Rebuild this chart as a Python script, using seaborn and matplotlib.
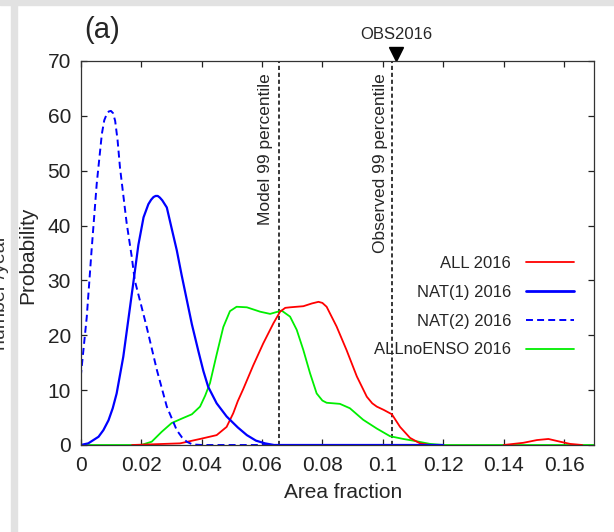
import matplotlib
matplotlib.use("Agg")
import matplotlib.pyplot as plt
from matplotlib.patches import Rectangle
from matplotlib.lines import Line2D
import numpy as np
import pandas as pd
import seaborn as sns

# ---------------- data ----------------
x_all = [0.017, 0.0329, 0.0395, 0.045, 0.0483, 0.0505, 0.052, 0.0538, 0.0571,
         0.0604, 0.0638, 0.066, 0.0677, 0.0693, 0.0715, 0.0737, 0.0765, 0.0787,
         0.0800, 0.0814, 0.0847, 0.088, 0.0914, 0.0947, 0.0965, 0.098, 0.1003,
         0.103, 0.1057, 0.109, 0.1123, 0.1156]
y_all = [0, 0.3, 1.1, 1.8, 3.3, 5.8, 8.0, 10.2, 14.5, 18.5, 22.2, 24.3, 25.0,
         25.1, 25.2, 25.3, 25.8, 26.1, 25.9, 25.2, 21.6, 17.3, 12.5, 8.8, 7.6,
         7.0, 6.4, 5.6, 3.3, 1.3, 0.3, 0]
x_all_tail = [0.14, 0.1465, 0.151, 0.1548, 0.1587, 0.162, 0.166]
y_all_tail = [0, 0.4, 0.9, 1.1, 0.6, 0.2, 0]

x_nat1 = [0, 0.0025, 0.0059, 0.0075, 0.0092, 0.0106, 0.0119, 0.0141, 0.0158,
          0.0174, 0.0191, 0.0208, 0.0224, 0.0233, 0.0241, 0.0248, 0.0255, 0.0262,
          0.027, 0.0285, 0.0301, 0.0318, 0.0334, 0.0351, 0.0368, 0.039, 0.0406,
          0.0422, 0.045, 0.0483, 0.052, 0.055, 0.058, 0.061, 0.064, 0.12]
y_nat1 = [0, 0.3, 1.5, 2.7, 4.5, 6.7, 9.4, 16.1, 23.0, 29.5, 36.5, 41.5, 43.9,
          44.7, 45.2, 45.4, 45.4, 45.1, 44.6, 43.3, 39.5, 35.5, 31.0, 26.5, 22.0,
          17.0, 13.5, 10.6, 7.6, 5.2, 3.2, 1.8, 0.8, 0.3, 0, 0]

x_nat2 = [0, 0.002, 0.0036, 0.0053, 0.007, 0.0078, 0.0086, 0.0093, 0.010, 0.0107,
          0.0114, 0.0122, 0.013, 0.0152, 0.0169, 0.0179, 0.020, 0.0218, 0.0252,
          0.0285, 0.0318, 0.0335, 0.0351, 0.037, 0.04, 0.06, 0.12]
y_nat2 = [12.4, 23.3, 35.5, 47.6, 56.7, 59.2, 60.3, 60.8, 60.9, 60.5, 59.1, 55.6,
          50.6, 40.5, 34.3, 30.0, 25.5, 21.6, 13.7, 7.0, 2.7, 1.4, 0.6, 0.1, 0,
          0, 0]

x_noenso = [0, 0.02, 0.0235, 0.0268, 0.0301, 0.0334, 0.0368, 0.0395, 0.0412,
            0.0428, 0.045, 0.0472, 0.0494, 0.0516, 0.055, 0.0594, 0.0627, 0.0665,
            0.0693, 0.0715, 0.0737, 0.0759, 0.0781, 0.0800, 0.0814, 0.0858,
            0.0891, 0.0935, 0.098, 0.1024, 0.1068, 0.110, 0.1156, 0.12, 0.17]
y_noenso = [0, 0, 0.6, 2.4, 4.0, 4.8, 5.6, 7.0, 9.0, 11.3, 16.5, 21.5, 24.4, 25.2,
            25.1, 24.3, 23.9, 24.5, 23.4, 21.0, 17.3, 13.1, 9.4, 8.1, 7.7, 7.5,
            6.7, 4.6, 3.0, 1.6, 1.1, 0.8, 0.2, 0, 0]

model_p99 = 0.0655
obs_p99 = 0.103
obs_2016 = 0.1045

series_labels = ["ALL 2016", "NAT(1) 2016", "NAT(2) 2016", "ALLnoENSO 2016"]
x_ticks = [0, 0.02, 0.04, 0.06, 0.08, 0.10, 0.12, 0.14, 0.16]
x_tick_labels = ["0", "0.02", "0.04", "0.06", "0.08", "0.1", "0.12", "0.14", "0.16"]
y_ticks = [0, 10, 20, 30, 40, 50, 60, 70]

# ---------------- style ----------------
sns.set_style("ticks")
plt.rcParams["font.family"] = ["Liberation Sans", "DejaVu Sans"]
plt.rcParams["lines.scale_dashes"] = False
plt.rcParams["lines.solid_joinstyle"] = "round"
plt.rcParams["lines.dash_joinstyle"] = "round"

W, H = 614, 532
fig = plt.figure(figsize=(W / 100, H / 100), dpi=100)
fig.patch.set_facecolor("white")

# light gray frame strips of the screenshot
fig.patches.append(Rectangle((0, 1 - 5 / H), 1, 5 / H, transform=fig.transFigure,
                             color="#e2e2e2", zorder=0))
fig.patches.append(Rectangle((11 / W, 0), 6 / W, 1, transform=fig.transFigure,
                             color="#e2e2e2", zorder=0))

L, R, T, B = 80.7, 594.3, 61, 445
ax = fig.add_axes([L / W, 1 - B / H, (R - L) / W, (B - T) / H])


def frame(x, y):
    return pd.DataFrame({"area": x, "prob": y})


kw = dict(x="area", y="prob", ax=ax, errorbar=None, legend=False)
sns.lineplot(data=frame(x_noenso, y_noenso), color="#00ee00", linewidth=1.3, **kw)
sns.lineplot(data=frame(x_all, y_all), color="#ff0000", linewidth=1.3, **kw)
sns.lineplot(data=frame(x_all_tail, y_all_tail), color="#ff0000", linewidth=1.3, **kw)
sns.lineplot(data=frame(x_nat1, y_nat1), color="#0000ff", linewidth=1.6, **kw)
sns.lineplot(data=frame(x_nat2, y_nat2), color="#0000ff", linewidth=1.4,
             linestyle=(0, (5, 3)), **kw)

for xv in (model_p99, obs_p99):
    ax.axvline(xv, color="black", linewidth=1.1, linestyle=(0, (3, 2)), zorder=1)

ax.text(model_p99 - 0.0042, 67.8, "Model 99 percentile", rotation=90,
        ha="center", va="top", fontsize=12.5)
ax.text(obs_p99 - 0.0038, 67.8, "Observed 99 percentile", rotation=90,
        ha="center", va="top", fontsize=12.5)

ax.plot([obs_2016], [71.3], marker="v", color="black", markersize=10,
        linestyle="none", clip_on=False)
ax.text(obs_2016, 74.8, "OBS2016", ha="center", va="center", fontsize=12)

ax.set_xlim(0, 0.17)
ax.set_ylim(0, 70)
ax.set_xticks(x_ticks)
ax.set_xticklabels(x_tick_labels)
ax.set_yticks(y_ticks)
ax.tick_params(direction="in", length=4, width=0.9, top=True, right=True,
               labelsize=15, colors="#222222", pad=7)
ax.tick_params(axis="x", pad=8)
for s in ax.spines.values():
    s.set_color("#333333")
    s.set_linewidth(0.9)

ax.set_xlabel("Area fraction", fontsize=15)
ax.set_ylabel("Probability", fontsize=15)
ax.xaxis.label.set_va("center")
ax.yaxis.label.set_va("center")
ax.xaxis.set_label_coords(0.51, (B - 492) / (B - T))
ax.yaxis.set_label_coords((28 - L) / (R - L), 0.495)

handles = [
    Line2D([], [], color="#ff0000", linewidth=1.3),
    Line2D([], [], color="#0000ff", linewidth=2.0),
    Line2D([], [], color="#0000ff", linewidth=1.4, linestyle=(0, (5, 3))),
    Line2D([], [], color="#00ee00", linewidth=1.3),
]
ax.legend(handles, series_labels, loc="upper right",
          bbox_to_anchor=((574 - L) / (R - L), (B - 256) / (B - T)),
          frameon=False, markerfirst=False, fontsize=12, handlelength=2.9,
          handletextpad=0.87, labelspacing=0.83, borderpad=0, borderaxespad=0)

fig.text(84 / W, 1 - 30 / H, "(a)", fontsize=21, ha="left", va="center")
fig.text(1 / W, 1 - 292 / H, "number /year", rotation=90, fontsize=14,
         ha="center", va="center", color="#333333")

fig.savefig("out.png", dpi=100)
